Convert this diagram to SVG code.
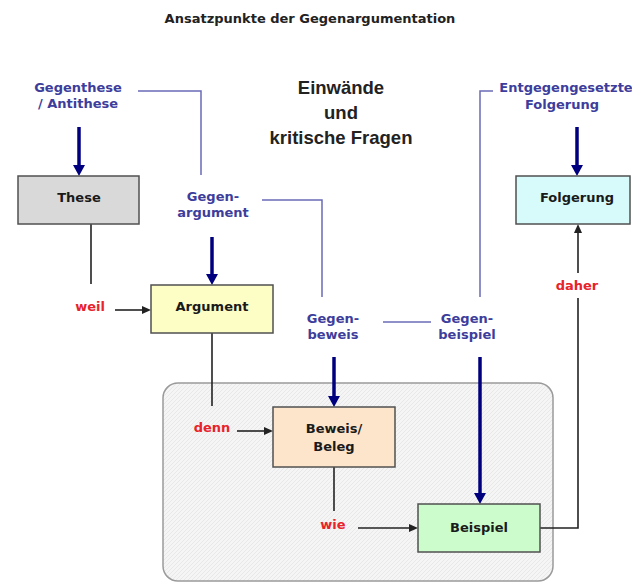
<svg xmlns="http://www.w3.org/2000/svg" width="632" height="584" viewBox="0 0 632 584">
<style>
.t{font-family:"DejaVu Sans",Verdana,sans-serif;font-weight:bold;font-size:13px;text-anchor:middle;fill:#1a1a1a}
.b{font-family:"DejaVu Sans",Verdana,sans-serif;font-weight:bold;font-size:13px;text-anchor:middle;fill:#3d3d9c}
.r{font-family:"DejaVu Sans",Verdana,sans-serif;font-weight:bold;font-size:13px;text-anchor:middle;fill:#e8232b}
.c{font-family:"Liberation Sans",Arial,sans-serif;font-weight:bold;font-size:18.5px;text-anchor:middle;fill:#222}
.box{stroke:#505050;stroke-width:1.5}
.blk{stroke:#222;stroke-width:1.6;fill:none}
.thin{stroke:#6a6ab8;stroke-width:1.5;fill:none}
.bl{stroke:#00007f;stroke-width:3.5;fill:none}
</style>
<defs>
<marker id="ah" markerUnits="userSpaceOnUse" markerWidth="9" markerHeight="8" refX="0" refY="4" orient="auto">
<path d="M0,0 L9,4 L0,8 z" fill="#222"/>
</marker>
<marker id="bh" markerUnits="userSpaceOnUse" markerWidth="12" markerHeight="12" refX="0" refY="6" orient="auto">
<path d="M0,0 L11,6 L0,12 z" fill="#00007f"/>
</marker>
<pattern id="hatch" patternUnits="userSpaceOnUse" width="4" height="4">
<rect width="4" height="4" fill="#f5f5f5"/>
<path d="M0,4 L4,0" stroke="#e4e4e4" stroke-width="0.8"/>
</pattern>
</defs>
<rect width="632" height="584" fill="#ffffff"/>
<text x="310" y="23" class="t" style="fill:#222">Ansatzpunkte der Gegenargumentation</text>

<g id="gruppe">
<rect x="163" y="383" width="390" height="198" rx="15" fill="url(#hatch)" stroke="#9a9a9a" stroke-width="1.5"/>
</g>

<g id="connectors">
<polyline class="thin" points="138,91 201,91 201,175"/>
<polyline class="thin" points="262,200 322,200 322,297"/>
<line class="thin" x1="383" y1="322" x2="431" y2="322"/>
<polyline class="thin" points="480,297 480,91 493,91"/>
<line class="bl" x1="79" y1="127" x2="79" y2="165" marker-end="url(#bh)"/>
<line class="bl" x1="577" y1="127" x2="577" y2="165" marker-end="url(#bh)"/>
<line class="bl" x1="212" y1="237" x2="212" y2="274" marker-end="url(#bh)"/>
<line class="bl" x1="334" y1="357" x2="334" y2="396" marker-end="url(#bh)"/>
<line class="bl" x1="480" y1="357" x2="480" y2="493" marker-end="url(#bh)"/>
<line class="blk" x1="91" y1="224" x2="91" y2="284"/>
<line class="blk" x1="115" y1="310" x2="142" y2="310" marker-end="url(#ah)"/>
<line class="blk" x1="212" y1="333" x2="212" y2="406"/>
<line class="blk" x1="237" y1="431" x2="264" y2="431" marker-end="url(#ah)"/>
<line class="blk" x1="334" y1="467" x2="334" y2="511"/>
<line class="blk" x1="358" y1="528" x2="409" y2="528" marker-end="url(#ah)"/>
<polyline class="blk" points="540,528 578,528 578,298"/>
<line class="blk" x1="578" y1="273" x2="578" y2="233" marker-end="url(#ah)"/>
</g>

<g id="gegenthese"><text x="78" y="92" class="b">Gegenthese</text><text x="78" y="108" class="b">/ Antithese</text></g>
<g id="gegenargument"><text x="213" y="201" class="b">Gegen-</text><text x="213" y="217" class="b">argument</text></g>
<g id="gegenbeweis"><text x="333" y="323" class="b">Gegen-</text><text x="333" y="339" class="b">beweis</text></g>
<g id="gegenbeispiel"><text x="467" y="323" class="b">Gegen-</text><text x="467" y="339" class="b">beispiel</text></g>
<g id="entgegen"><text x="566" y="92" class="b">Entgegengesetzte</text><text x="562" y="109" class="b">Folgerung</text></g>
<g id="einwaende"><text x="341" y="94" class="c">Einwände</text><text x="341" y="119" class="c">und</text><text x="341" y="144" class="c">kritische Fragen</text></g>

<g id="these"><rect class="box" x="18" y="176" width="121" height="48" fill="#d9d9d9"/><text x="79" y="202" class="t">These</text></g>
<g id="argument"><rect class="box" x="151" y="285" width="122" height="48" fill="#fdfdc6"/><text x="212" y="311" class="t">Argument</text></g>
<g id="beweis"><rect class="box" x="273" y="407" width="122" height="60" fill="#fde5cc"/><text x="334" y="433" class="t">Beweis/</text><text x="334" y="451" class="t">Beleg</text></g>
<g id="beispiel"><rect class="box" x="418" y="504" width="122" height="48" fill="#ccfbcc"/><text x="479" y="532" class="t">Beispiel</text></g>
<g id="folgerung"><rect class="box" x="516" y="176" width="114" height="48" fill="#d7fbfb"/><text x="577" y="202" class="t">Folgerung</text></g>

<g id="labels">
<text x="90" y="311" class="r">weil</text>
<text x="212" y="432" class="r">denn</text>
<text x="333" y="529" class="r">wie</text>
<text x="577" y="290" class="r">daher</text>
</g>
</svg>
